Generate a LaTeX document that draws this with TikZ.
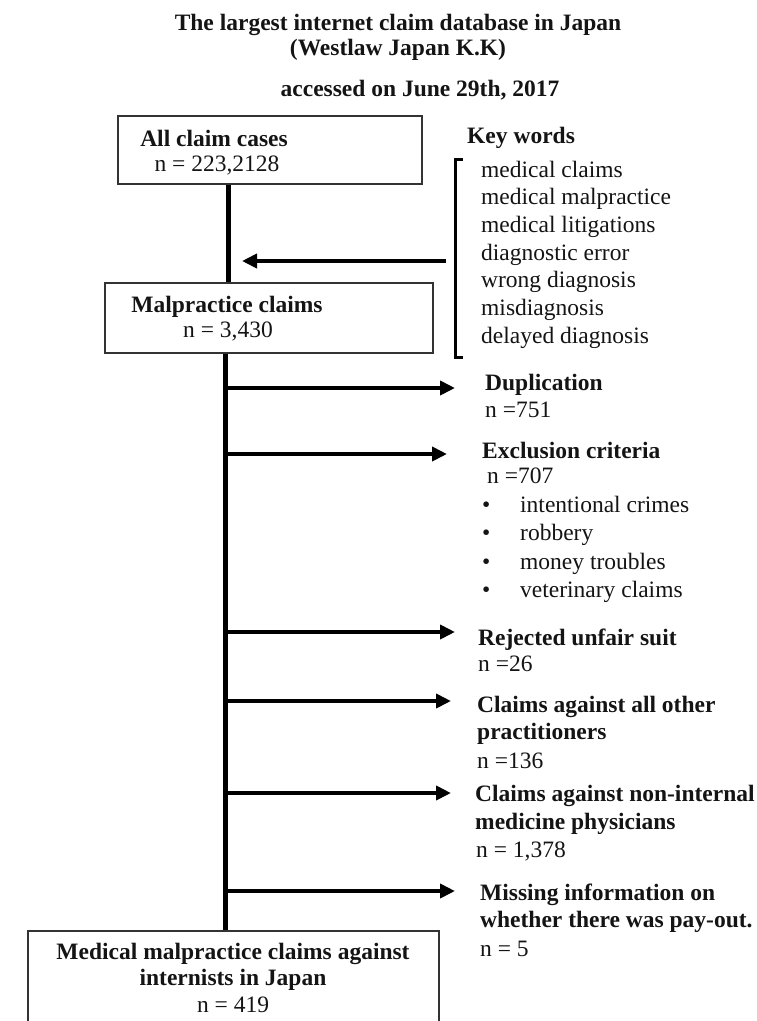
\documentclass[tikz,border=0pt]{standalone}
\usepackage{fontspec}
\setmainfont{Liberation Serif}
\usetikzlibrary{arrows.meta}
\begin{document}
\begin{tikzpicture}[x=1pt,y=-1pt,
  every node/.style={font=\fontsize{23.5}{27.7}\selectfont, inner sep=0pt, text=black!92},
  boxshape/.style={draw=black!80, line width=1.4pt, rectangle, inner sep=0pt},
  trunk/.style={line width=5pt},
  branch/.style={line width=4.5pt, -{Triangle[length=15pt,width=14pt]}},
  lbl/.style={anchor=base west},
  ctr/.style={anchor=base},
  hd/.style={anchor=base west, font=\fontsize{23.5}{27.7}\selectfont\bfseries},
  hdc/.style={anchor=base, font=\fontsize{23.5}{27.7}\selectfont\bfseries}
]
\useasboundingbox (0,0) rectangle (757,1021);

% title
\node[hdc] (title1) at (398,30) {The largest internet claim database in Japan};
\node[hdc] (title2) at (398,55) {(Westlaw Japan K.K)};
\node[hdc] (title3) at (420,96) {accessed on June 29th, 2017};

% boxes
\node[boxshape, minimum width=304pt, minimum height=68pt] (box1) at (270,150) {};
\node[hdc] (box1a) at (214,146) {All claim cases};
\node[ctr] (box1b) at (217,171) {n = 223,2128};

\node[boxshape, minimum width=328pt, minimum height=70pt] (box2) at (269,318) {};
\node[hdc] (box2a) at (227,312) {Malpractice claims};
\node[ctr] (box2b) at (228,337) {n = 3,430};

\node[boxshape, minimum width=411pt, minimum height=104pt] (box3) at (233.5,983) {};
\node[hdc] (box3a) at (233,959) {Medical malpractice claims against};
\node[hdc] (box3b) at (233,985) {internists in Japan};
\node[ctr] (box3c) at (233,1012) {n = 419};

% key words
\node[hd] (kwh) at (467,143) {Key words};
\node[lbl] (kw1) at (481,177) {medical claims};
\node[lbl] (kw2) at (481,204.7) {medical malpractice};
\node[lbl] (kw3) at (481,232.4) {medical litigations};
\node[lbl] (kw4) at (481,260.1) {diagnostic error};
\node[lbl] (kw5) at (481,287.8) {wrong diagnosis};
\node[lbl] (kw6) at (481,315.5) {misdiagnosis};
\node[lbl] (kw7) at (481,343.2) {delayed diagnosis};
\draw[line width=3pt] (463,159) -- (455,159) -- (455,357) -- (463,357);
\coordinate (kwstart) at (446,261);
\coordinate (kwtip) at (242,261);
\draw[branch] (kwstart) -- (kwtip);

% exclusions
\node[hd] (dup) at (485,390) {Duplication};
\node[lbl] (dupn) at (485,417) {n =751};

\node[hd] (exc) at (482,458) {Exclusion criteria};
\node[lbl] (excn) at (487,483) {n =707};
\foreach \y/\t [count=\i] in {512/intentional crimes,540/robbery,569/money troubles,597/veterinary claims}{
  \node[lbl] (excb\i) at (482,\y) {•};
  \node[lbl] (exct\i) at (520,\y) {\t};
}

\node[hd] (rej) at (478,645) {Rejected unfair suit};
\node[lbl] (rejn) at (478,671) {n =26};

\node[hd] (oth1) at (477,712) {Claims against all other};
\node[hd] (oth2) at (477,739) {practitioners};
\node[lbl] (othn) at (477,768) {n =136};

\node[hd] (non1) at (475,801) {Claims against non-internal};
\node[hd] (non2) at (475,829) {medicine physicians};
\node[lbl] (nonn) at (476,857) {n = 1,378};

\node[hd] (mis1) at (480,900) {Missing information on};
\node[hd] (mis2) at (480,927) {whether there was pay-out.};
\node[lbl] (misn) at (480,956) {n = 5};

% trunk
\coordinate (tra) at (228,0);
\coordinate (trb) at (225,0);
\draw[trunk] (box1.south -| tra) -- (box2.north -| tra);
\draw[trunk] (box2.south -| trb) -- (box3.north -| trb);

% branches
\foreach \y/\x [count=\i] in {388/455,454/447,632/455,701/451,793/451,891/455}{
  \coordinate (bs\i) at (225,\y);
  \coordinate (be\i) at (\x,\y);
  \draw[branch] (bs\i) -- (be\i);
}
\end{tikzpicture}
\end{document}
